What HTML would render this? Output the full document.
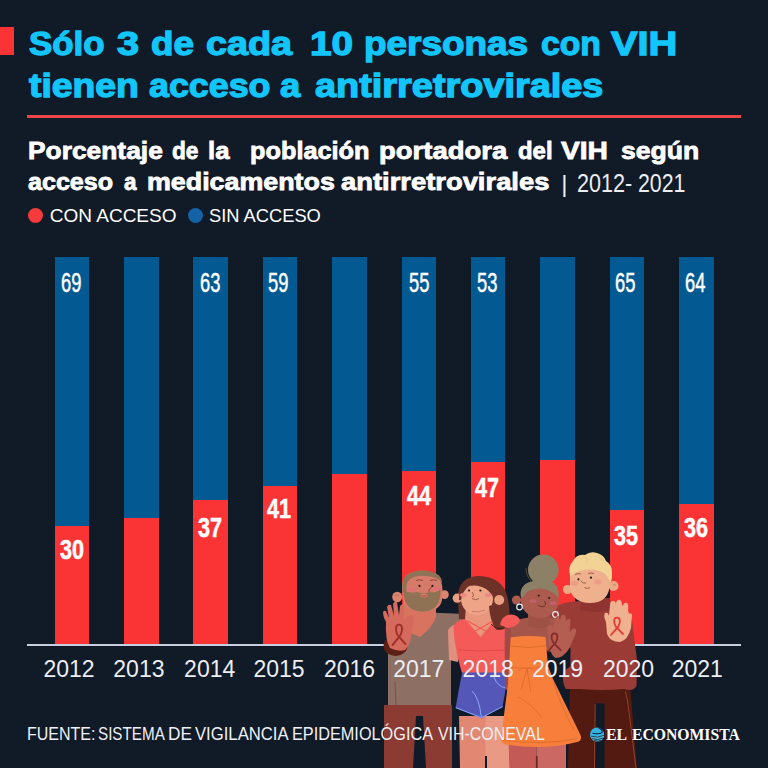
<!DOCTYPE html>
<html lang="es">
<head>
<meta charset="utf-8">
<title>Sólo 3 de cada 10 personas con VIH tienen acceso a antirretrovirales</title>
<style>
html,body{margin:0;padding:0;}
body{width:768px;height:768px;overflow:hidden;background:#111a27;}
#c{position:relative;width:768px;height:768px;background:#111a27;overflow:hidden;font-family:"Liberation Sans",Arial,sans-serif;}
.t{position:absolute;white-space:nowrap;line-height:1;margin:0;}
.hd{margin:0;padding:0;font-size:inherit;font-weight:normal;}
.w{position:absolute;white-space:nowrap;line-height:1;transform-origin:0 0;font-weight:bold;}
.t1,.t2{font-size:34px;color:#12c5fa;-webkit-text-stroke:1.3px #12c5fa;}
.t1{top:25.6px;} .t2{top:68.3px;}
.s1,.s2{font-size:24.5px;color:#fff;-webkit-text-stroke:0.8px #fff;}
.s1{top:138.86px;} .s2{top:169.56px;}
.yr2{top:171.4px;font-size:25.3px;font-weight:normal;color:#eceef3;}
.lg{top:725.6px;font-size:17px;font-family:"Liberation Serif",serif;color:#fff;}
.ft{top:725.3px;font-size:18.8px;font-weight:normal;color:#eef0f5;}
.bar{position:absolute;width:34.6px;top:256.8px;height:387px;background:#035a93;}
.bar i{position:absolute;left:0;right:0;bottom:0;background:#fa3434;display:block;}
.lb{position:absolute;color:#fff;font-size:27px;line-height:1;white-space:nowrap;transform-origin:0 0;-webkit-text-stroke:0.45px #fff;}
.lr{font-weight:bold;-webkit-text-stroke:0.5px #fff;}
.yr{position:absolute;top:657.9px;font-size:23px;color:#eceef3;line-height:1;width:80px;text-align:center;}
</style>
</head>
<body>
<div id="c">
  <div style="position:absolute;left:0;top:27px;width:14px;height:28px;background:#fa3434"></div>
  <h1 class="hd">
<span class="w t1" style="left:28.90px;transform:scaleX(1.025)">Sólo</span>
<span class="w t1" style="left:117.30px;transform:scaleX(1.167)">3</span>
<span class="w t1" style="left:151.32px;transform:scaleX(1.082)">de</span>
<span class="w t1" style="left:206.49px;transform:scaleX(1.110)">cada</span>
<span class="w t1" style="left:309.56px;transform:scaleX(1.139)">10</span>
<span class="w t1" style="left:363.73px;transform:scaleX(1.085)">personas</span>
<span class="w t1" style="left:540.71px;transform:scaleX(0.990)">con</span>
<span class="w t1" style="left:610.90px;transform:scaleX(1.171)">VIH</span>
<span class="w t2" style="left:28.60px;transform:scaleX(1.097)">tienen</span>
<span class="w t2" style="left:148.90px;transform:scaleX(1.053)">acceso</span>
<span class="w t2" style="left:279.80px;transform:scaleX(1.072)">a</span>
<span class="w t2" style="left:314.60px;transform:scaleX(1.114)">antirretrovirales</span>
  </h1>
  <div style="position:absolute;left:27.3px;top:115px;width:713.6px;height:3.4px;background:#ea4646"></div>

  <h2 class="hd">
<span class="w s1" style="left:27.67px;transform:scaleX(1.076)">Porcentaje</span>
<span class="w s1" style="left:172.17px;transform:scaleX(0.926)">de</span>
<span class="w s1" style="left:207.95px;transform:scaleX(1.050)">la</span>
<span class="w s1" style="left:249.97px;transform:scaleX(1.033)">población</span>
<span class="w s1" style="left:378.58px;transform:scaleX(1.121)">portadora</span>
<span class="w s1" style="left:518.02px;transform:scaleX(0.977)">del</span>
<span class="w s1" style="left:560.60px;transform:scaleX(1.150)">VIH</span>
<span class="w s1" style="left:621.12px;transform:scaleX(1.084)">según</span>
<span class="w s2" style="left:28.00px;transform:scaleX(1.024)">acceso</span>
<span class="w s2" style="left:123.90px;transform:scaleX(0.914)">a</span>
<span class="w s2" style="left:146.51px;transform:scaleX(1.095)">medicamentos</span>
<span class="w s2" style="left:341.00px;transform:scaleX(1.117)">antirretrovirales</span>
  </h2>
  <div class="t" style="top:171.6px;left:561.3px;font-size:24px;color:#eceef3">|</div>
  <div class="hd">
<span class="w yr2" style="left:576.95px;transform:scaleX(0.854)">2012-</span>
<span class="w yr2" style="left:638.36px;transform:scaleX(0.844)">2021</span>
  </div>

  <div style="position:absolute;left:27.9px;top:208.3px;width:15px;height:15px;border-radius:50%;background:#f43a3a"></div>
  <div class="t" style="top:205.75px;left:49.8px;font-size:19px;color:#fff">CON ACCESO</div>
  <div style="position:absolute;left:187.5px;top:208.3px;width:15px;height:15px;border-radius:50%;background:#1462a6"></div>
  <div class="t" style="top:205.75px;left:209.24px;font-size:19px;color:#fff;transform:scaleX(0.963);transform-origin:0 0">SIN ACCESO</div>

  <!-- bars -->
  <div class="bar" style="left:54.7px"><i style="height:118.2px"></i></div>
  <div class="bar" style="left:124.1px"><i style="height:125.9px"></i></div>
  <div class="bar" style="left:193.4px"><i style="height:143.4px"></i></div>
  <div class="bar" style="left:262.8px"><i style="height:157.8px"></i></div>
  <div class="bar" style="left:332.2px"><i style="height:170px"></i></div>
  <div class="bar" style="left:401.5px"><i style="height:172.4px"></i></div>
  <div class="bar" style="left:470.9px"><i style="height:181.8px"></i></div>
  <div class="bar" style="left:540.3px"><i style="height:184.3px"></i></div>
  <div class="bar" style="left:609.7px"><i style="height:134px"></i></div>
  <div class="bar" style="left:679px"><i style="height:139.9px"></i></div>

  <!-- blue labels -->
  <div class="lb" style="left:61px;top:269.5px;transform:scaleX(0.68)">69</div>
  <div class="lb" style="left:200px;top:269.5px;transform:scaleX(0.68)">63</div>
  <div class="lb" style="left:268px;top:269.5px;transform:scaleX(0.68)">59</div>
  <div class="lb" style="left:409px;top:269.5px;transform:scaleX(0.68)">55</div>
  <div class="lb" style="left:477px;top:269.5px;transform:scaleX(0.68)">53</div>
  <div class="lb" style="left:615.2px;top:269.5px;transform:scaleX(0.68)">65</div>
  <div class="lb" style="left:685px;top:269.5px;transform:scaleX(0.68)">64</div>
  <!-- red labels -->
  <div class="lb lr" style="left:59.5px;top:537.1px;transform:scaleX(0.8)">30</div>
  <div class="lb lr" style="left:198.2px;top:514.7px;transform:scaleX(0.8)">37</div>
  <div class="lb lr" style="left:266.7px;top:496.2px;transform:scaleX(0.8)">41</div>
  <div class="lb lr" style="left:406.7px;top:482.5px;transform:scaleX(0.8)">44</div>
  <div class="lb lr" style="left:475px;top:474.8px;transform:scaleX(0.8)">47</div>
  <div class="lb lr" style="left:613.7px;top:523px;transform:scaleX(0.8)">35</div>
  <div class="lb lr" style="left:683.6px;top:514.8px;transform:scaleX(0.8)">36</div>

  <!-- axis -->
  <div style="position:absolute;left:27.3px;top:644px;width:713.6px;height:2.2px;background:#c9cde0"></div>

  <!-- ILLUSTRATION -->
  <svg id="ill" style="position:absolute;left:370px;top:545px" width="280" height="223" viewBox="370 545 280 223">
    <!-- ===== Man 4 (blonde, right) ===== -->
    <path d="M570,684 L630,684 L637,768 L568,768 Z" fill="#521a10"/>
    <path d="M595.2,703.4 L604.5,703.4 L604.5,768 L595.2,768 Z" fill="#111a27"/>
    <path d="M595.2,704 L594.5,768 M625.5,692 Q628,700 629,712 L636,768" stroke="#a84a30" stroke-width="0.8" fill="none"/>
    <path d="M549,616 Q552,606 566,602.5 Q574,601 584,601 L608,601 Q626,606 632,620 L637,660 L636.5,686 Q633,692 624,689 Q600,691 580,689 L566,689 Q562,684 563,672 L570.5,666 L570.5,648 L562,642 Z" fill="#9b3b36"/>
    <path d="M581,598 L610,598 L611,610 Q596,614 580,610 Z" fill="#8f3430"/>
    <circle cx="567.5" cy="589.5" r="4.6" fill="#ebaa86"/>
    <circle cx="613.5" cy="586" r="5" fill="#ebaa86"/>
    <path d="M613,585 Q615,583 616,586" stroke="#b8765a" stroke-width="0.7" fill="none"/>
    <path d="M570,580 Q569,570 574,567 Q584,564 596,566 Q608,569 610,582 Q610,598 598,602 Q590,604 582,602 Q571,598 570,588 Z" fill="#efb08d"/>
    <path d="M570.5,577 Q567,567 573,561 Q577,553.5 585,555 Q590,551 597,553 Q604,555 606,561 Q612.5,565 612,573 Q612.5,580 610,583 Q608,576 604,573 Q598,569.5 590,569.5 Q582,569.5 577,572 Q572,574 570.5,577 Z" fill="#f2d395"/>
    <path d="M585,556.5 Q588,560 587,563 M598,555 Q600,559 604,561" stroke="#e2bb78" stroke-width="0.6" fill="none"/>
    <ellipse cx="574.5" cy="583.5" rx="3.8" ry="2.4" fill="#ec9c88"/>
    <ellipse cx="598" cy="582" rx="3.8" ry="2.4" fill="#ec9c88"/>
    <circle cx="578.4" cy="579.3" r="1.1" fill="#2a1a14"/>
    <circle cx="590.9" cy="577.7" r="1.1" fill="#2a1a14"/>
    <path d="M575,574.5 Q578,573 581,574 M588,573.5 Q591,572.5 594,573.5 M580.5,580.5 Q583,584 586,583 M584.5,587.5 Q587,589.5 590,587.5" stroke="#8a4a3a" stroke-width="0.8" fill="none"/>

    <!-- ===== Man 1 (bearded, left) ===== -->
    <path d="M384,705 L452,705 L452,768 L384,768 Z" fill="#8b3b31"/>
    <path d="M416,716 L423,716 L426,768 L413,768 Z" fill="#111a27"/>
    <path d="M388,705 L451,705 L451,640 L467,630 L467,614 L440,613 Q424,611 410,617 L395,628 L388,650 Z" fill="#8e6f64"/>
    <path d="M395,682 L396,705" stroke="#6e4a44" stroke-width="0.8"/>
    <path d="M403,603 L436,603 L436,617 Q432,628 420,637 Q410,634 403,626 Z" fill="#d8735f"/>
    <ellipse cx="397.2" cy="597" rx="5" ry="5.3" fill="#d98572"/>
    <path d="M395,596 Q397,593.5 399,596" stroke="#a85a4a" stroke-width="0.7" fill="none"/>
    <circle cx="444.5" cy="594.6" r="4.3" fill="#d98572"/>
    <path d="M402,590 Q401,571 422,570.5 Q442,571 442.5,590 L442,600 Q440,611.5 423,612 Q404,611.5 403,600 Z" fill="#d67b69"/>
    <path d="M402.3,592 L402.3,586 Q402,571 422,570.5 Q441.5,571 442.2,583 Q437,575.8 422,575.8 Q408.5,576 406.5,585 L406.3,593 Z" fill="#8e7356"/>
    <path d="M403.2,590.5 Q409,593.5 417,592 Q423,594.5 429,592 Q435,593.5 440.5,589.5 Q441,611.5 422.5,611.7 Q404,611.5 403.2,590.5 Z" fill="#8f7253"/>
    <ellipse cx="424" cy="595.5" rx="3.6" ry="1.9" fill="#d67b69"/>
    <path d="M421.5,595.3 Q424,597.5 426.5,595.3" stroke="#8a3a30" stroke-width="0.7" fill="none"/>
    <ellipse cx="411" cy="589.5" rx="4" ry="2" fill="#de7076"/>
    <ellipse cx="436.5" cy="588.5" rx="4" ry="2" fill="#de7076"/>
    <circle cx="419.5" cy="585.9" r="1.1" fill="#2a1a14"/>
    <circle cx="432.4" cy="585.9" r="1.1" fill="#2a1a14"/>
    <path d="M416,580.5 Q419,579 423,580.5 M430,580.5 Q433,579 437,580.5 M432,587 Q428,589 429,592" stroke="#7a3a30" stroke-width="0.8" fill="none"/>

    <!-- ===== Woman 2 (pink top) ===== -->
    <path d="M458,597 Q458,578 477,576 Q499,576 506,592 Q511,608 509.5,629 Q499,633 490,625 L474,621 L459,619 Z" fill="#6d3127"/>
    <path d="M459,716 L486,716 L486,768 L460,768 Z" fill="#e28872"/>
    <path d="M485.5,716 L508,716 L510,768 L485.5,768 Z" fill="#e99a84"/>
    <path d="M486,756 L486,768" stroke="#111a27" stroke-width="2"/>
    <path d="M462.5,671 L508.8,671 L502.5,707 L481.4,718.2 L455.6,708.2 Q458.5,690 462.5,671 Z" fill="#5557b8"/>
    <path d="M455.8,707.6 L481.4,717.6 L502.6,706.6 M472,691 Q479,697 481.4,717.6 M494,677 Q497,686 505.6,688" stroke="#8fb0ff" stroke-width="0.9" fill="none"/>
    <path d="M448,630 Q452,624 458,625 L458,662 L449,660 Z" fill="#e0907e"/>
    <path d="M466,606 L496,606 L496,620 L480.5,638 L465,620 Z" fill="#e8977c"/>
    <path d="M453.5,627 Q456,619.5 466,619 L465,619 L480.5,637 L496,619 L500,619 Q509.5,620 509.5,627 L508.8,672.5 L461.8,672.5 Q457,657 454.5,640 Z" fill="#f35a58"/>
    <path d="M467,620.5 Q478,627 489.5,633 M494,620.5 Q483,627 471.5,633" stroke="#f35a58" stroke-width="1.3" fill="none"/>
    <path d="M458,650 Q480,652 505,650" stroke="#d84448" stroke-width="0.7" fill="none"/>
    <path d="M473,608 L490,608 L490,621 Q481,627 473,621 Z" fill="#e8977c"/>
    <circle cx="457.2" cy="598.2" r="4.6" fill="#eaa080"/>
    <circle cx="477" cy="599" r="16" fill="#eda487"/>
    <path d="M459,600 Q459,579 477,577 Q497,577 505,592 L506,610 Q499,607 496,602 Q492,593 486,589 Q478,584 469,586 Q463,590 461,600 Z" fill="#6d3127"/>
    <path d="M489,606 L506,601 Q511,613 508.5,626 Q503,631.5 496,629.5 Q490,621 489,606 Z" fill="#6d3127"/>
    <path d="M491,624 Q496,630 504,628" stroke="#3a1a14" stroke-width="0.8" fill="none"/>
    <circle cx="499.2" cy="600" r="5" fill="#eaa080"/>
    <ellipse cx="463.5" cy="595" rx="3.5" ry="2" fill="#ec8a86"/>
    <ellipse cx="488" cy="595" rx="3.5" ry="2" fill="#ec8a86"/>
    <circle cx="469" cy="590.5" r="1.1" fill="#2a1a14"/>
    <circle cx="480.4" cy="590.5" r="1.1" fill="#2a1a14"/>
    <path d="M472,592 Q475,596 472,597 M472,598.5 Q476,601 479,598.5" stroke="#8a4a3a" stroke-width="0.8" fill="none"/>
    <path d="M472,611.5 Q479,613 485,610" stroke="#c9705e" stroke-width="0.8" fill="none"/>

    <!-- ===== Woman 3 (orange dress) ===== -->
    <path d="M505,624 L513,624 L513,690 L506,690 Q504,660 505,624 Z" fill="#a04a45"/>
    <path d="M508.5,740 L536.5,740 L536.5,768 L509.5,768 Z" fill="#c45a55"/>
    <path d="M536.5,740 L566,740 L566,768 L536.5,768 Z" fill="#cc6863"/>
    <path d="M536.8,756 L536.8,768" stroke="#6a2a28" stroke-width="1.8"/>
    <path d="M511,622 Q526,616 540,618 Q556,616 566,624 L566,646 L552,652 L511,642 Z" fill="#a5564a"/>
    <path d="M528,606 L550,606 L550,626 Q539,630 528,626 Z" fill="#9e5145"/>
    <circle cx="516.5" cy="600" r="4.6" fill="#ad5a4e"/>
    <ellipse cx="539.8" cy="600.5" rx="19" ry="17.5" fill="#ad5a4e"/>
    <path d="M520.8,597 Q519,585 531,581.5 Q544,578 553,582.5 Q560,588 558.5,598 Q552,589 540,588.5 Q526,589 523,597 Z" fill="#8c8166"/>
    <circle cx="543.3" cy="569.8" r="15.3" fill="#8c8166"/>
    <path d="M526,568 Q526,576 531,581" stroke="#5a4f3a" stroke-width="0.9" fill="none"/>
    <circle cx="519.5" cy="607" r="2.8" fill="none" stroke="#eef2f7" stroke-width="1.2"/>
    <circle cx="555.5" cy="614.5" r="2.8" fill="none" stroke="#eef2f7" stroke-width="1.2"/>
    <ellipse cx="533" cy="601" rx="3.5" ry="2" fill="#c0606a"/>
    <ellipse cx="553" cy="603" rx="3.5" ry="2" fill="#c0606a"/>
    <circle cx="538.7" cy="595.5" r="1.1" fill="#2a1a14"/>
    <circle cx="549.2" cy="598" r="1.1" fill="#2a1a14"/>
    <path d="M544,601 Q547,603 545,605 M538,605 Q541,608 545,606" stroke="#5a2a22" stroke-width="0.8" fill="none"/>
    <path d="M510.6,637.5 Q528,635 545.5,637 L548,666 L553,679 L580.5,735 Q582.5,740.5 577,742 Q545,750.5 506,744.5 Q500.5,743.5 501.2,737 L508,684 L509,667 Z" fill="#f77f3b"/>
    <path d="M511,646 Q528,649 546,646 M509.5,667 Q528,670 548,666 M519,671 Q524,666 527,669 Q530,666 535,671 M527,669 L521,690 M527,669 L531,692 M518,697 Q532,704 542,718 M553,680 Q560,705 574,730 M503,740 Q540,746 578,738.5" stroke="#d96a2a" stroke-width="0.8" fill="none"/>

    <!-- woman2 sleeve over woman3 shoulder -->
    <path d="M500,625 Q502,615 511,614.5 Q519,615 520,621 Q517,627 508,628 Z" fill="#f35a58"/>

    <!-- ===== Raised hands ===== -->
    <!-- man1 sleeve & hand -->
    <ellipse cx="395.5" cy="646" rx="12" ry="10" fill="#5c1f15"/>
    <path d="M386,622 Q383,617 383,613 Q383,610 386,611 L389,618 L387,607 Q388,604 391,605 L394,616 L393,604 Q394,601 397,602 L399,615 L400,606 Q402,603 404,606 L404,620 L409,616 Q413,614 414,618 L412,630 Q411,645 405,650 Q398,652 390,648 Q385,640 386,622 Z" fill="#d4695c"/>
    <path d="M392.5,645.1 L400.6,634.9 C402.9,629.7 402.6,624.6 399.0,624.6 C395.4,624.6 395.1,629.7 397.4,634.9 L405.5,644.1" stroke="#9e302a" stroke-width="1.9" fill="none" stroke-linecap="round"/>
    <!-- woman3 hand -->
    <g transform="translate(0.5,6)">
    <path d="M548,628 Q546,622 548,619 Q551,618 552,622 L554,616 Q554,611 557,610 Q560,611 559,616 L560,612 Q561,608 564,609 Q566,611 565,616 L566,614 Q568,612 570,614 L569,626 L573,622 Q577,622 575,628 L569,642 Q563,652 555,652 Q548,648 548,628 Z" fill="#b45e52"/>
    <path d="M547.8,645.0 L555.5,636.2 C557.8,631.8 557.5,627.4 554.0,627.4 C550.5,627.4 550.2,631.8 552.5,636.2 L560.2,644.1" stroke="#8a2a28" stroke-width="1.8" fill="none" stroke-linecap="round"/>
    </g>
    <!-- man4 hand -->
    <path d="M606,622 Q603,616 605,613 Q608,612 609,616 L610,605 Q610,601 613,601 Q616,601 616,605 L616,603 Q617,599 620,600 Q622,601 622,605 L623,606 Q624,602 627,603 Q629,605 628,610 L629,614 Q631,612 632,615 L631,628 Q628,640 620,642 Q610,642 607,634 Z" fill="#f0b18f"/>
    <path d="M611.0,635.0 L618.4,626.4 C620.6,622.0 620.4,617.7 617.0,617.7 C613.6,617.7 613.4,622.0 615.6,626.4 L623.0,634.1" stroke="#e8393a" stroke-width="1.8" fill="none" stroke-linecap="round"/>
  </svg>

  <!-- years -->
  <div class="yr" style="left:29px">2012</div>
  <div class="yr" style="left:98.9px">2013</div>
  <div class="yr" style="left:169.7px">2014</div>
  <div class="yr" style="left:239.1px">2015</div>
  <div class="yr" style="left:309.5px">2016</div>
  <div class="yr" style="left:378.8px">2017</div>
  <div class="yr" style="left:448.2px">2018</div>
  <div class="yr" style="left:517.6px">2019</div>
  <div class="yr" style="left:588.5px">2020</div>
  <div class="yr" style="left:657.3px">2021</div>

  <!-- footer -->
  <p class="hd">
<span class="w ft" style="left:27.20px;transform:scaleX(0.852)">FUENTE:</span>
<span class="w ft" style="left:97.69px;transform:scaleX(0.810)">SISTEMA</span>
<span class="w ft" style="left:168.17px;transform:scaleX(0.917)">DE</span>
<span class="w ft" style="left:195.20px;transform:scaleX(0.888)">VIGILANCIA</span>
<span class="w ft" style="left:292.37px;transform:scaleX(0.866)">EPIDEMIOLÓGICA</span>
<span class="w ft" style="left:437.50px;transform:scaleX(0.848)">VIH-CONEVAL</span>
  </p>
  <svg style="position:absolute;left:589.5px;top:726.8px" width="15" height="15" viewBox="0 0 15 15">
    <circle cx="7.1" cy="7.5" r="7" fill="#2fb3e6"/>
    <path d="M0.6,8.5 Q7,11 13.8,7.5 L14,9 Q13,14.5 7.1,14.5 Q2.3,14.5 0.5,9.5 Z" fill="#56bddf"/>
    <path d="M8.6,1 Q12.6,2.5 12.2,5.2 Q10.5,7.6 2.6,6.2" stroke="#111a27" stroke-width="1.1" fill="none"/>
    <path d="M1,9.2 Q7.5,11.5 13.8,8.4 M1.8,11.6 Q7.5,13.8 13,11 M4,13.6 Q8,14.8 11,13.4" stroke="#111a27" stroke-width="0.75" fill="none"/>
    </svg>
  <div class="hd">
<span class="w lg" style="left:606.07px;transform:scaleX(0.929)">EL</span>
<span class="w lg" style="left:631.78px;transform:scaleX(0.923)">ECONOMISTA</span>
  </div>
</div>
</body>
</html>
